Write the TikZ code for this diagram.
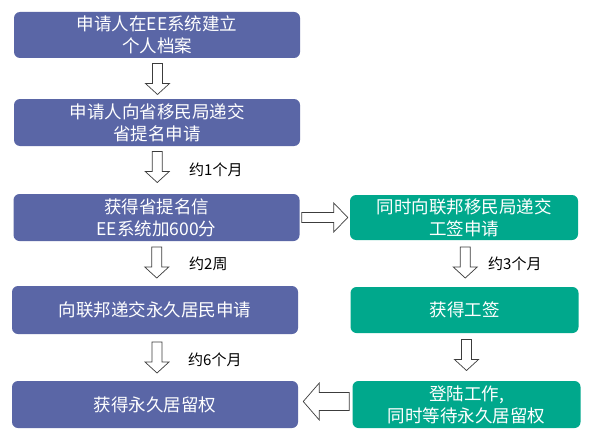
\documentclass[tikz,border=0pt]{standalone}
\usepackage{fontspec}
\newfontfamily\cjk{Noto Sans CJK SC}
\usetikzlibrary{calc}
\definecolor{boxblue}{RGB}{90,102,166}
\definecolor{boxgreen}{RGB}{0,168,140}
\definecolor{arrowgray}{RGB}{60,60,60}
\tikzset{
  flowbox/.style={rounded corners=6pt, draw=none, text=white, align=center,
    font=\cjk\fontsize{17.5}{22}\selectfont, inner sep=0pt},
  bluebox/.style={flowbox, fill=boxblue, minimum width=286pt},
  greenbox/.style={flowbox, fill=boxgreen, minimum width=228pt},
  arrowline/.style={draw=arrowgray, fill=white, line width=0.7pt, line join=miter},
  steplabel/.style={font=\cjk\fontsize{15}{17}\selectfont, text=black, anchor=west, inner sep=0pt},
  hdown/.pic={\path[arrowline] (-5,-15.5) -- (5,-15.5) -- (5,4.5) -- (12,4.5) -- (0,15.5) -- (-12,4.5) -- (-5,4.5) -- cycle;},
  hright/.pic={\path[arrowline] (-23,-5) -- (9,-5) -- (9,-14.5) -- (23,0) -- (9,14.5) -- (9,5) -- (-23,5) -- cycle;},
  hleft/.pic={\path[arrowline] (23,-9) -- (-7,-9) -- (-7,-18.5) -- (-23,0) -- (-7,18.5) -- (-7,9) -- (23,9) -- cycle;}
}
\begin{document}
\begin{tikzpicture}[x=1pt,y=-1pt]
\useasboundingbox[fill=white] (0,0) rectangle (593,441);
% left column
\node[bluebox, minimum height=46pt] (b1) at (157,35) {申请人在EE系统建立\\个人档案};
\node[bluebox, minimum height=47pt] (b2) at (157,122.5) {申请人向省移民局递交\\省提名申请};
\node[bluebox, minimum height=47pt] (b3) at (156.5,217.5) {获得省提名信\\EE系统加600分};
\node[bluebox, minimum height=48pt] (b4) at (155,310) {向联邦递交永久居民申请};
\node[bluebox, minimum height=47pt] (b5) at (155,404.5) {获得永久居留权};
% right column
\node[greenbox, minimum height=45pt] (g1) at (464,217.5) {同时向联邦移民局递交\\工签申请};
\node[greenbox, minimum height=46pt] (g2) at (464.5,310) {获得工签};
\node[greenbox, minimum height=47pt] (g3) at (466.5,404.5) {登陆工作,\\同时等待永久居留权};
% arrows
\coordinate (a1) at ($(b1.south)!0.5!(b2.north)$);
\coordinate (a2) at ($(b2.south)!0.5!(b3.north)$);
\coordinate (a3) at ($(b3.south)!0.5!(b4.north)$);
\coordinate (a4) at ($(b4.south)!0.5!(b5.north)$);
\coordinate (a5) at ($(g1.south)!0.5!(g2.north)$);
\coordinate (a6) at ($(g2.south)!0.5!(g3.north)$);
\coordinate (a7) at ($(b3.east)!0.5!(g1.west)$);
\coordinate (a8) at ($(b5.east)!0.5!(g3.west)$);
\pic at ([xshift=0.5pt,yshift=-0.5pt]a1) {hdown};
\pic at ([xshift=0.5pt,yshift=3pt]a2) {hdown};
\pic at ([xshift=1pt,yshift=1pt]a3) {hdown};
\pic at ([xshift=2pt,yshift=0pt]a4) {hdown};
\pic at ([xshift=1pt,yshift=1pt]a5) {hdown};
\pic at ([xshift=1pt,yshift=2pt]a6) {hdown};
\pic at ([xshift=0pt,yshift=0pt]a7) {hright};
\pic at ([xshift=1pt,yshift=3pt]a8) {hleft};
% labels
\node[steplabel] (l1) at (189,170) {约1个月};
\node[steplabel] (l2) at (189,264) {约2周};
\node[steplabel] (l3) at (188,360) {约6个月};
\node[steplabel] (l4) at (488,264) {约3个月};
\end{tikzpicture}
\end{document}
